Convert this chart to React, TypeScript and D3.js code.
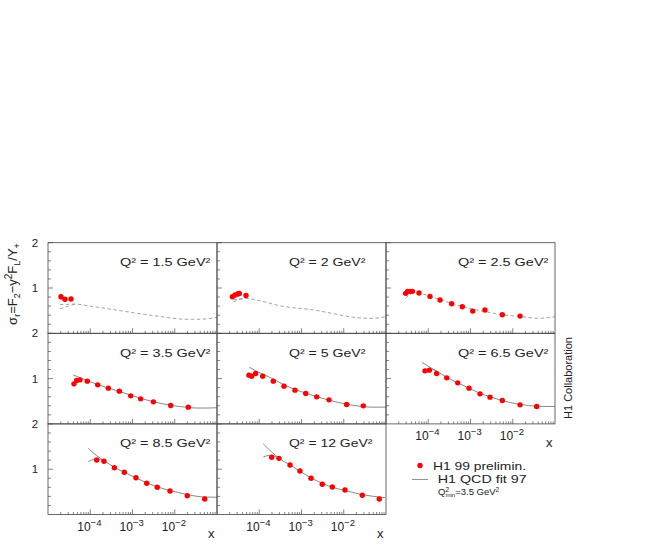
import React from "react";
import * as d3 from "d3";

// ---------- labels ----------
const q2Labels = ["1.5", "2", "2.5", "3.5", "5", "6.5", "8.5", "12"];
const yTickLabels = [1, 2];
const xDecades = [1e-4, 1e-3, 1e-2];
const xDecadeExp = ["−4", "−3", "−2"];

// ---------- H1 99 preliminary data points (x, sigma_r, error) ----------
const px1 = [2.03e-5, 2.52e-5, 3.5e-5];
const py1 = [0.807, 0.75, 0.756];
const pe1 = [0.07, 0.03, 0.03];

const px2 = [2.31e-5, 2.67e-5, 3.09e-5, 3.37e-5, 4.85e-5];
const py2 = [0.807, 0.845, 0.866, 0.88, 0.837];
const pe2 = [0.03, 0.03, 0.03, 0.03, 0.03];

const px3 = [2.92e-5, 3.26e-5, 3.7e-5, 4.2e-5, 6.04e-5, 1.1e-4, 1.9e-4, 3.58e-4, 6.4e-4, 1.13e-3, 2.2e-3, 5.66e-3, 1.49e-2];
const py3 = [0.882, 0.926, 0.926, 0.926, 0.888, 0.815, 0.734, 0.652, 0.586, 0.49, 0.513, 0.409, 0.38];
const pe3 = [0.04, 0.03, 0.03, 0.03, 0.03, 0.02, 0.02, 0.02, 0.02, 0.02, 0.02, 0.02, 0.02];

const px4 = [4.12e-5, 4.78e-5, 5.71e-5, 8.51e-5, 1.5e-4, 2.68e-4, 4.88e-4, 9.06e-4, 1.56e-3, 3.12e-3, 8.02e-3, 2.09e-2];
const py4 = [0.884, 0.959, 0.972, 0.944, 0.862, 0.789, 0.723, 0.619, 0.553, 0.487, 0.407, 0.37];
const pe4 = [0.06, 0.04, 0.03, 0.02, 0.02, 0.02, 0.02, 0.02, 0.02, 0.02, 0.02, 0.02];

const px5 = [5.71e-5, 6.61e-5, 8.22e-5, 1.21e-4, 2.15e-4, 3.85e-4, 7.01e-4, 1.26e-3, 2.29e-3, 4.48e-3, 1.17e-2, 2.9e-2];
const py5 = [1.076, 1.054, 1.114, 1.054, 0.944, 0.833, 0.745, 0.672, 0.597, 0.531, 0.429, 0.398];
const pe5 = [0.05, 0.06, 0.03, 0.03, 0.02, 0.02, 0.02, 0.02, 0.02, 0.02, 0.02, 0.02];

const px6 = [8.38e-5, 1.06e-4, 1.58e-4, 2.74e-4, 4.98e-4, 9.23e-4, 1.68e-3, 2.9e-3, 5.66e-3, 1.49e-2, 3.69e-2];
const py6 = [1.171, 1.187, 1.114, 1.017, 0.906, 0.789, 0.663, 0.59, 0.517, 0.42, 0.385];
const pe6 = [0.04, 0.03, 0.03, 0.02, 0.02, 0.02, 0.02, 0.02, 0.02, 0.02, 0.02];

const px7 = [1.42e-4, 2.11e-4, 3.72e-4, 6.4e-4, 1.21e-3, 2.17e-3, 3.86e-3, 7.73e-3, 1.98e-2, 5.12e-2];
const py7 = [1.203, 1.174, 1.033, 0.932, 0.812, 0.689, 0.6, 0.519, 0.415, 0.342];
const pe7 = [0.03, 0.03, 0.02, 0.02, 0.02, 0.02, 0.02, 0.02, 0.02, 0.02];

const px8 = [1.97e-4, 2.93e-4, 5.35e-4, 9.2e-4, 1.68e-3, 3.1e-3, 5.37e-3, 1.07e-2, 2.75e-2, 6.93e-2];
const py8 = [1.263, 1.24, 1.093, 0.96, 0.799, 0.667, 0.607, 0.541, 0.424, 0.342];
const pe8 = [0.03, 0.03, 0.02, 0.02, 0.02, 0.02, 0.02, 0.02, 0.02, 0.02];

// ---------- H1 QCD fit 97 curves: main (upper) branch and low-x lower branch ----------
const fx1 = [1.91e-5, 4.37e-5, 1e-4, 3.16e-4, 1.05e-3, 3.16e-3, 6.46e-3, 1.91e-2, 3.98e-2, 1e-1];
const fy1 = [0.63, 0.645, 0.6, 0.53, 0.455, 0.39, 0.35, 0.31, 0.31, 0.355];
const lx1 = [1.91e-5, 3.0e-5, 4.37e-5];
const ly1 = [0.54, 0.6, 0.645];

const fx2 = [2.43e-5, 5.0e-5, 1e-4, 3.4e-4, 2.1e-3, 6.0e-3, 1.85e-2, 4.6e-2, 9.5e-2];
const fy2 = [0.74, 0.77, 0.72, 0.6, 0.51, 0.43, 0.35, 0.33, 0.365];
const lx2 = [2.43e-5, 3.5e-5, 5.0e-5];
const ly2 = [0.69, 0.75, 0.77];

const fx3 = [2.92e-5, 4.5e-5, 6.0e-5, 1.1e-4, 1.9e-4, 3.58e-4, 6.4e-4, 1.13e-3, 2.2e-3, 5.66e-3, 1.49e-2, 2.33e-2, 4.0e-2, 1e-1];
const fy3 = [0.92, 0.9, 0.89, 0.82, 0.745, 0.665, 0.595, 0.535, 0.48, 0.41, 0.37, 0.35, 0.33, 0.365];
const lx3 = [2.92e-5, 3.7e-5, 4.5e-5];
const ly3 = [0.77, 0.86, 0.9];

const fx4 = [3.98e-5, 5.75e-5, 8.5e-5, 1.51e-4, 2.69e-4, 4.9e-4, 9.1e-4, 1.55e-3, 3.16e-3, 7.9e-3, 2.09e-2, 3.3e-2, 5.75e-2, 1.05e-1];
const fy4 = [1.08, 1.02, 0.955, 0.87, 0.79, 0.715, 0.635, 0.565, 0.49, 0.41, 0.365, 0.35, 0.35, 0.36];

const fx5 = [5.82e-5, 8.3e-5, 1.37e-4, 2.15e-4, 3.9e-4, 7.0e-4, 1.26e-3, 2.29e-3, 4.47e-3, 1.17e-2, 2.9e-2, 4.6e-2, 1e-1];
const fy5 = [1.253, 1.17, 1.076, 0.99, 0.86, 0.76, 0.68, 0.6, 0.525, 0.435, 0.38, 0.37, 0.37];

const fx6 = [7.1e-5, 1.06e-4, 1.58e-4, 2.74e-4, 5.0e-4, 9.2e-4, 1.68e-3, 2.9e-3, 5.66e-3, 1.49e-2, 3.7e-2, 5.25e-2, 1.06e-1];
const fy6 = [1.357, 1.26, 1.16, 1.03, 0.905, 0.79, 0.675, 0.6, 0.515, 0.43, 0.39, 0.385, 0.385];
const lx6 = [7.4e-5, 9.5e-5, 1.3e-4, 1.58e-4];
const ly6 = [1.12, 1.18, 1.2, 1.16];

const fx7 = [9.0e-5, 1.41e-4, 2.11e-4, 3.72e-4, 6.45e-4, 1.2e-3, 2.19e-3, 3.9e-3, 7.76e-3, 2.0e-2, 3.98e-2, 1.07e-1];
const fy7 = [1.461, 1.3, 1.19, 1.045, 0.93, 0.81, 0.7, 0.61, 0.53, 0.44, 0.393, 0.38];
const lx7 = [9.0e-5, 1.29e-4, 1.78e-4, 2.11e-4];
const ly7 = [1.166, 1.219, 1.22, 1.19];

const fx8 = [1.25e-4, 1.97e-4, 2.93e-4, 5.37e-4, 9.1e-4, 1.66e-3, 3.1e-3, 5.37e-3, 1.07e-2, 2.75e-2, 6.9e-2, 9.5e-2];
const fy8 = [1.556, 1.38, 1.24, 1.095, 0.96, 0.81, 0.69, 0.6, 0.53, 0.44, 0.385, 0.373];
const lx8 = [1.25e-4, 1.8e-4, 2.5e-4, 2.93e-4];
const ly8 = [1.27, 1.307, 1.28, 1.24];

// ---------- layout ----------
const W = 654;
const H = 545;
const LEFT0 = 48;
const COLW = 169;
const TOP0 = 242.7;
const ROWH = 90.6;
const FONT = "'Liberation Sans', Arial, Helvetica, sans-serif";

const zip = (a: number[], b: number[]) => a.map((v, i) => [v, b[i]] as [number, number]);

const panels = [
  { col: 0, row: 0, px: px1, py: py1, pe: pe1, f: zip(fx1, fy1), l: zip(lx1, ly1), dashed: true },
  { col: 1, row: 0, px: px2, py: py2, pe: pe2, f: zip(fx2, fy2), l: zip(lx2, ly2), dashed: true },
  { col: 2, row: 0, px: px3, py: py3, pe: pe3, f: zip(fx3, fy3), l: zip(lx3, ly3), dashed: true },
  { col: 0, row: 1, px: px4, py: py4, pe: pe4, f: zip(fx4, fy4), l: null, dashed: false },
  { col: 1, row: 1, px: px5, py: py5, pe: pe5, f: zip(fx5, fy5), l: null, dashed: false },
  { col: 2, row: 1, px: px6, py: py6, pe: pe6, f: zip(fx6, fy6), l: zip(lx6, ly6), dashed: false },
  { col: 0, row: 2, px: px7, py: py7, pe: pe7, f: zip(fx7, fy7), l: zip(lx7, ly7), dashed: false },
  { col: 1, row: 2, px: px8, py: py8, pe: pe8, f: zip(fx8, fy8), l: zip(lx8, ly8), dashed: false },
];

const xScale = d3.scaleLog().domain([1e-5, 1e-1]).range([0, COLW]);
const yScale = d3.scaleLinear().domain([0, 2]).range([ROWH, 0]);

const minorX: number[] = [];
for (let e = -5; e < -1; e++) {
  for (let m = 1; m <= 9; m++) minorX.push(m * Math.pow(10, e));
}
const yTicks = d3.range(0.2, 2.0001, 0.2);

const lineGen = d3
  .line<[number, number]>()
  .x((d) => xScale(d[0]))
  .y((d) => yScale(d[1]))
  .curve(d3.curveMonotoneX);

function Panel({ p, idx }: { p: (typeof panels)[number]; idx: number }) {
  const left = LEFT0 + p.col * COLW;
  const top = TOP0 + p.row * ROWH;
  const clipId = `clip${idx}`;
  const curveColor = p.dashed ? "#9a9a9a" : "#7a7a7a";
  const dash = p.dashed ? "3.5,2.5" : undefined;
  const label = `Q² = ${q2Labels[idx]} GeV²`;
  return (
    <g transform={`translate(${left},${top})`}>
      <clipPath id={clipId}>
        <rect x={0} y={0} width={COLW} height={ROWH} />
      </clipPath>
      {minorX.map((v, i) => {
        const isMajor = Math.abs(Math.log10(v) - Math.round(Math.log10(v))) < 1e-9;
        const x = xScale(v);
        if (x <= 0.5 || x >= COLW - 0.5) return null;
        return (
          <line key={"xt" + i} x1={x} x2={x} y1={ROWH} y2={ROWH - (isMajor ? 5 : 2.5)} stroke="#666" strokeWidth={0.8} />
        );
      })}
      {yTicks.map((v, i) => {
        const isMajor = Math.abs(v - Math.round(v)) < 1e-6;
        const y = yScale(v);
        return <line key={"yt" + i} x1={0} x2={isMajor ? 5 : 3} y1={y} y2={y} stroke="#666" strokeWidth={0.8} />;
      })}
      <g clipPath={`url(#${clipId})`}>
        <path d={lineGen(p.f) || ""} fill="none" stroke={curveColor} strokeWidth={0.9} strokeDasharray={dash} />
        {p.l && (
          <path d={lineGen(p.l) || ""} fill="none" stroke={curveColor} strokeWidth={0.9} strokeDasharray={dash} />
        )}
        {p.px.map((x, i) => (
          <line
            key={"e" + i}
            x1={xScale(x)}
            x2={xScale(x)}
            y1={yScale(p.py[i] - p.pe[i])}
            y2={yScale(p.py[i] + p.pe[i])}
            stroke="#777"
            strokeWidth={0.8}
          />
        ))}
        {p.px.map((x, i) => (
          <circle key={"p" + i} cx={xScale(x)} cy={yScale(p.py[i])} r={2.7} fill="#ff0000" />
        ))}
      </g>
      <text
        x={72}
        y={23.5}
        fontSize={10.5}
        fontFamily={FONT}
        fill="#222"
        textLength={label.length * 6.95}
        lengthAdjust="spacingAndGlyphs"
      >
        {label}
      </text>
      <rect x={0} y={0} width={COLW} height={ROWH} fill="none" stroke="#444" strokeWidth={0.8} />
    </g>
  );
}

function XLabels({ col, row }: { col: number; row: number }) {
  const left = LEFT0 + col * COLW;
  const base = TOP0 + (row + 1) * ROWH + 16;
  return (
    <g>
      {xDecades.map((v, i) => (
        <text key={i} x={left + xScale(v) - 13} y={base} fontSize={12} fontFamily={FONT} fill="#222">
          10
          <tspan dy={-5} fontSize={9.5}>
            {xDecadeExp[i]}
          </tspan>
        </text>
      ))}
      <text x={left + COLW - 9} y={base + 7} fontSize={13} fontFamily={FONT} fill="#222">
        x
      </text>
    </g>
  );
}

export default function App() {
  return (
    <svg
      width={W}
      height={H}
      viewBox={`0 0 ${W} ${H}`}
      style={{ position: "absolute", left: 0, top: 0, background: "#fff" }}
    >
      <rect x={0} y={0} width={W} height={H} fill="#fff" />
      {panels.map((p, i) => (
        <Panel key={i} p={p} idx={i} />
      ))}
      {[0, 1, 2].map((r) =>
        yTickLabels.map((v) => (
          <text
            key={r + "-" + v}
            x={35}
            y={TOP0 + r * ROWH + yScale(v) + 4}
            fontSize={11.5}
            fontFamily={FONT}
            textAnchor="middle"
            fill="#222"
          >
            {v}
          </text>
        ))
      )}
      <XLabels col={0} row={2} />
      <XLabels col={1} row={2} />
      <XLabels col={2} row={1} />
      <text transform="translate(17,284) rotate(-90)" textAnchor="middle" fontSize={13} fontFamily={FONT} fill="#222">
        σ<tspan dy={3} fontSize={9}>r</tspan>
        <tspan dy={-3}>=F</tspan>
        <tspan dy={3} fontSize={9}>2</tspan>
        <tspan dy={-3}>−y</tspan>
        <tspan dy={-5} fontSize={10}>2</tspan>
        <tspan dy={5}>F</tspan>
        <tspan dy={3} fontSize={9}>L</tspan>
        <tspan dy={-3}>/Y</tspan>
        <tspan dy={3} fontSize={9}>+</tspan>
      </text>
      <text
        transform="translate(572,378) rotate(-90)"
        textAnchor="middle"
        fontSize={11}
        fontFamily="'Liberation Sans Narrow', 'Liberation Sans', Arial, sans-serif"
        fill="#222"
      >
        H1 Collaboration
      </text>
      <circle cx={420} cy={465.5} r={2.7} fill="#ff0000" />
      <text x={433} y={469.5} fontSize={11} fontFamily={FONT} fill="#222" textLength={93} lengthAdjust="spacingAndGlyphs">
        H1 99 prelimin.
      </text>
      <line x1={412} x2={428} y1={479.5} y2={479.5} stroke="#888" strokeWidth={0.9} />
      <text x={437.7} y={483} fontSize={11} fontFamily={FONT} fill="#222" textLength={89} lengthAdjust="spacingAndGlyphs">
        H1 QCD fit 97
      </text>
      <text x={438} y={495} fontSize={9.5} fontFamily={FONT} fill="#222">
        Q<tspan dy={-3} fontSize={6.5}>2</tspan>
        <tspan dy={5} dx={-3.5} fontSize={6}>min</tspan>
        <tspan dy={-2}>=3.5 GeV</tspan>
        <tspan dy={-3} fontSize={6.5}>2</tspan>
      </text>
    </svg>
  );
}
